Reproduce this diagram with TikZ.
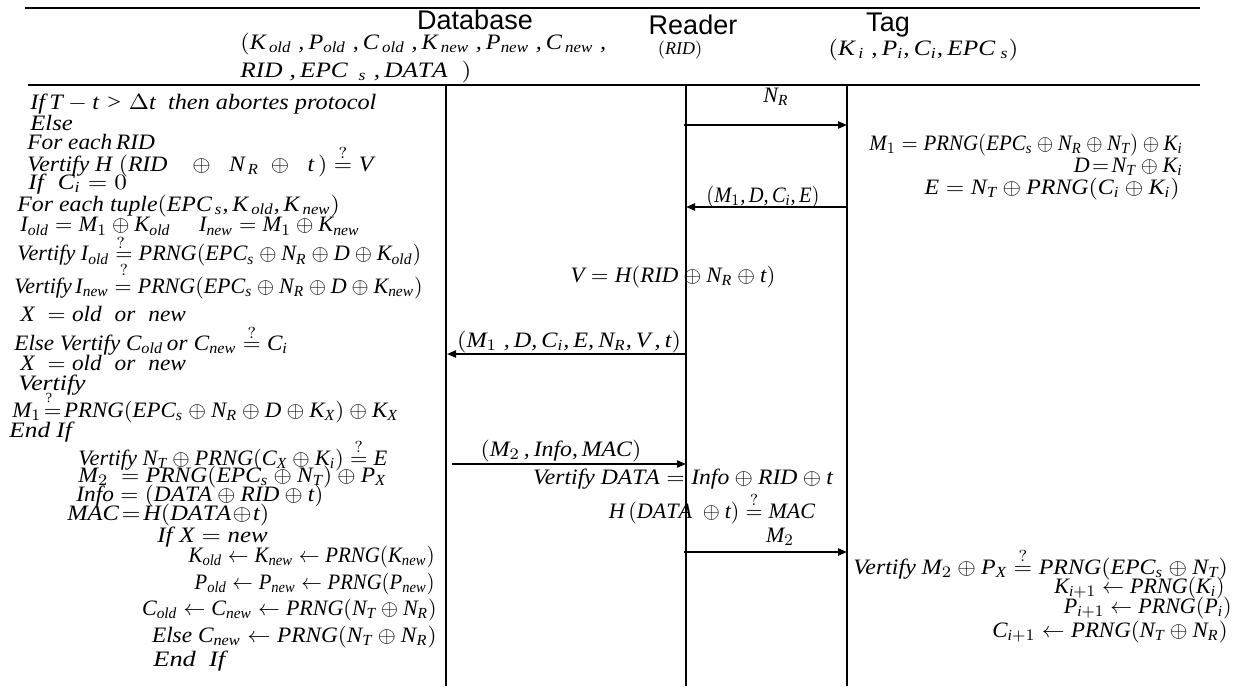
\documentclass[tikz,border=0pt]{standalone}
\usepackage{amsmath}
\usepackage{graphicx}
\usepackage{fontspec}
\setmainfont{Liberation Serif}
\newfontfamily\hdrfont{Liberation Sans}
\newfontfamily\mathletfam{Liberation Serif}[NFSSFamily=lsermath]
\DeclareSymbolFont{letters}{TU}{lsermath}{m}{it}
\SetSymbolFont{letters}{bold}{TU}{lsermath}{b}{it}
\DeclareMathSymbol{,}{\mathpunct}{letters}{"2C}
\DeclareMathSymbol{.}{\mathord}{letters}{"2E}
\DeclareMathSymbol{/}{\mathord}{letters}{"2F}
\usetikzlibrary{arrows.meta}
\newcommand{\qe}{\stackrel{?}{=}}
\newcommand{\hs}[2]{\scalebox{#1}[1]{#2}}
\begin{document}
\begin{tikzpicture}[x=0.5pt,y=-0.5pt,
  txt/.style={inner sep=0pt, font=\fontsize{11}{12}\selectfont},
  hdr/.style={inner sep=0pt, font=\hdrfont\fontsize{13.5}{14}\selectfont},
  rule/.style={line width=1pt},
  life/.style={line width=0.6pt},
  msg/.style={line width=0.8pt, -{Triangle[length=4.5pt,width=3.6pt]}}]
\useasboundingbox (0,0) rectangle (1240,686);
% rules
\coordinate (r1a) at (25,8); \coordinate (r1b) at (1200,8);
\coordinate (r2a) at (28,85); \coordinate (r2b) at (1200,85);
\draw[rule] (r1a) -- (r1b);
\draw[rule] (r2a) -- (r2b);
% lifelines
\coordinate (dbT) at (446,85); \coordinate (dbB) at (446,686);
\coordinate (rdT) at (686,85); \coordinate (rdB) at (686,686);
\coordinate (tgT) at (847,85); \coordinate (tgB) at (847,686);
\draw[life] (dbT) -- (dbB);
\draw[life] (rdT) -- (rdB);
\draw[life] (tgT) -- (tgB);
% header
\node[hdr] (hdb) at (475,20) {Database};
\node[hdr] (hrd) at (693,25) {Reader};
\node[hdr] (htg) at (888,25) {Tag};
\node[txt, anchor=west] (dbv1) at (240,44) {\hs{1.1}{$(K_{\,old}\;, P_{old}\;, C_{\,old}\;, K_{\,new}\;, P_{new}\;, C_{\,new}\;,$}};
\node[txt, anchor=west] (dbv2) at (240,72) {\hs{1.15}{$RID\;, EPC_{\;\;s}\;, DATA\;\;)$}};
\node[txt, font=\fontsize{9}{10}\selectfont] (rdv) at (680,50) {$(RID)$};
\node[txt, anchor=west] (tgv) at (828,50) {\hs{1.15}{$(K_{\,i}\;, P_i, C_i, EPC_{\;s})$}};
% database column
\node[txt, anchor=west] (l1) at (30,104) {\hs{1.105}{$\mathit{If}\,T-t>\Delta t$\ \ \textit{then abortes protocol}}};
\node[txt, anchor=west] (l2) at (30,123) {\hs{1.12}{\textit{Else}}};
\node[txt, anchor=west] (l3) at (27,142) {\hs{1.06}{\textit{For each}\,$RID$}};
\node[txt, anchor=west] (l4) at (27,161) {\hs{1.077}{\textit{Vertify} $H\;(RID\;\;\;\oplus\;\;N_{\,R}\;\oplus\;\;t\,)\qe V$}};
\node[txt, anchor=west] (l5) at (28,184) {\hs{1.15}{$\mathit{If}\;\;C_i=0$}};
\node[txt, anchor=west] (l6) at (17,206) {\hs{1.083}{\textit{For each tuple}$(EPC_{\,s}, K_{\,old}, K_{\,new})$}};
\node[txt, anchor=west] (l7) at (20,234) {\hs{1.02}{$I_{old}=M_1\mathbin{\underset{?}{\oplus}} K_{old}\quad\; I_{new}=M_1\oplus K_{new}$}};
\node[txt, anchor=west] (l8) at (17,261) {\hs{1.01}{\textit{Vertify} $I_{old}\mathrel{\underset{?}{=}} PRNG(EPC_s\oplus N_R\oplus D\oplus K_{old})$}};
\node[txt, anchor=west] (l9) at (14,288) {\textit{Vertify}$\,I_{new}= PRNG(EPC_s\oplus N_R\oplus D\oplus K_{new})$};
\node[txt, anchor=west] (l10) at (20,314) {\hs{1.06}{$X\;=\mathit{old}\;\;\mathit{or}\;\;\mathit{new}$}};
\node[txt, anchor=west] (l11) at (14,340) {\hs{1.05}{\textit{Else Vertify} $C_{old}\,\mathit{or}\;C_{new}\qe C_i$}};
\node[txt, anchor=west] (l12) at (20,363) {\hs{1.06}{$X\;=\mathit{old}\;\;\mathit{or}\;\;\mathit{new}$}};
\node[txt, anchor=west] (l13) at (18,385) {\hs{1.17}{\textit{Vertify}}};
\node[txt, font=\fontsize{7}{8}\selectfont] (l13q) at (49,398) {?};
\node[txt, anchor=west] (l14) at (12,412) {\hs{1.04}{$M_1\!=\!PRNG(EPC_s\oplus N_R\oplus D\oplus K_X)\oplus K_X$}};
\node[txt, anchor=west] (l15) at (9,432) {\hs{1.15}{\textit{End If}}};
\node[txt, anchor=west] (l16) at (78,455) {\hs{1.02}{\textit{Vertify} $N_T\oplus PRNG(C_X\oplus K_i)\qe E$}};
\node[txt, anchor=west] (l17) at (78,477) {\hs{1.07}{$M_2\;=PRNG(EPC_s\oplus N_T)\oplus P_X$}};
\node[txt, anchor=west] (l18) at (76,496) {\hs{1.06}{$\mathit{Info}=(DATA\oplus RID\oplus t)$}};
\node[txt, anchor=west] (l19) at (67,515) {\hs{1.11}{$MAC\!=\!H(DATA\!\oplus\! t)$}};
\node[txt, anchor=west] (l20) at (157,537) {\hs{1.13}{$\mathit{If}\;X=\mathit{new}$}};
\node[txt, anchor=east] (l21) at (435,557) {\hs{0.95}{$K_{old}\leftarrow K_{new}\leftarrow PRNG(K_{new})$}};
\node[txt, anchor=east] (l22) at (435,584) {\hs{0.94}{$P_{old}\leftarrow P_{new}\leftarrow PRNG(P_{new})$}};
\node[txt, anchor=east] (l23) at (437,610) {$C_{old}\leftarrow C_{new}\leftarrow PRNG(N_T\oplus N_R)$};
\node[txt, anchor=east] (l24) at (437,637) {\hs{1.06}{\textit{Else} $C_{new}\leftarrow PRNG(N_T\oplus N_R)$}};
\node[txt, anchor=west] (l25) at (153,661) {\hs{1.2}{\textit{End\ \ If}}};
% messages
\coordinate (a1s) at (684,125); \coordinate (a1e) at (847,125);
\draw[msg] (a1s) -- (a1e);
\node[txt] (m1) at (776,97) {$N_R$};
\coordinate (a2s) at (847,207); \coordinate (a2e) at (686,207);
\draw[msg] (a2s) -- (a2e);
\node[txt] (m2) at (763,197) {\hs{0.93}{$(M_1, D, C_i, E)$}};
\node[txt] (rv) at (673,277) {\hs{1.04}{$V=H(RID\oplus N_R\oplus t)$}};
\coordinate (a3s) at (686,354); \coordinate (a3e) at (447,354);
\draw[msg] (a3s) -- (a3e);
\node[txt] (m3) at (569,342) {\hs{1.1}{$(M_1\;, D, C_i, E, N_R, V\,, t)$}};
\coordinate (a4s) at (452,464); \coordinate (a4e) at (686,464);
\draw[msg] (a4s) -- (a4e);
\node[txt] (m4) at (561,451) {\hs{1.08}{$(M_2\,, \mathit{Info}, MAC)$}};
\node[txt] (rv2) at (683,479) {\hs{1.075}{\textit{Vertify} $DATA=\mathit{Info}\oplus RID\oplus t$}};
\node[txt] (rv3) at (712,508) {$H\,(DATA\;\oplus t)\qe MAC$};
\coordinate (a5s) at (684,552); \coordinate (a5e) at (847,552);
\draw[msg] (a5s) -- (a5e);
\node[txt] (m5) at (780,537) {$M_2$};
% tag column
\node[txt, anchor=east] (t1) at (1183,145) {\hs{0.95}{$M_1=PRNG(EPC_s\oplus N_R\oplus N_T)\oplus K_i$}};
\node[txt, anchor=east] (t2) at (1183,167) {$D\!=\!N_T\oplus K_i$};
\node[txt, anchor=east] (t3) at (1180,189) {\hs{1.086}{$E=N_T\oplus PRNG(C_i\oplus K_i)$}};
\node[txt, anchor=west] (t4) at (853,564) {\hs{1.087}{\textit{Vertify} $M_2\oplus P_X\qe PRNG(EPC_s\oplus N_T)$}};
\node[txt, anchor=east] (t5) at (1225,588) {$K_{i+1}\leftarrow PRNG(K_i)$};
\node[txt, anchor=east] (t6) at (1232,608) {$P_{i+1}\leftarrow PRNG(P_i)$};
\node[txt, anchor=east] (t7) at (1228,632) {\hs{1.04}{$C_{i+1}\leftarrow PRNG(N_T\oplus N_R)$}};
\end{tikzpicture}
\end{document}
